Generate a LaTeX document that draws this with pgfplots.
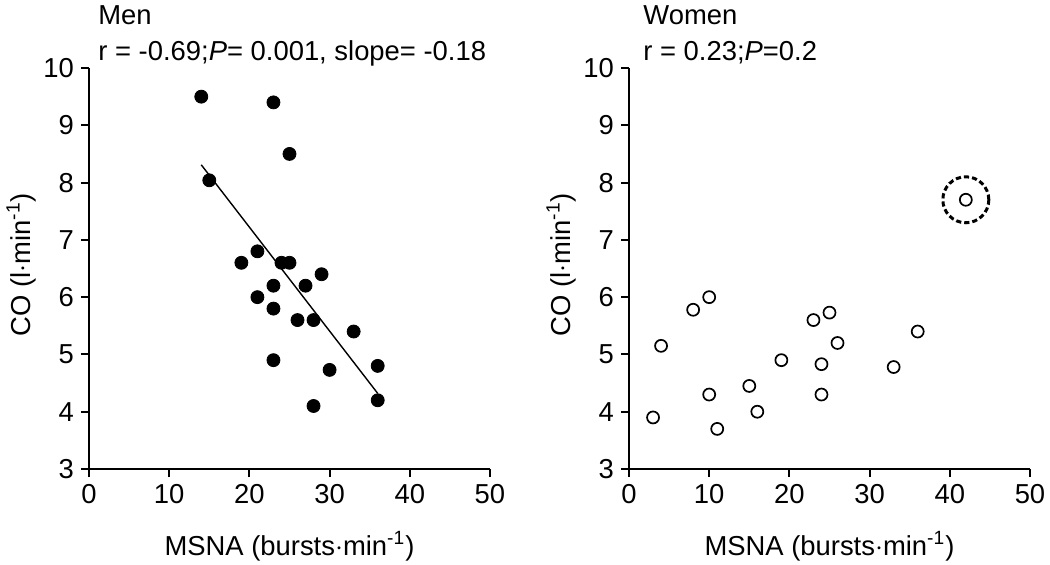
\documentclass[border=0pt]{standalone}
\usepackage{fontspec}
\setmainfont{Liberation Sans}
\usepackage{pgfplots}
\pgfplotsset{compat=1.18}
\newcommand{\fs}{\fontsize{13.7}{16.4}\selectfont}
\pgfplotsset{
  myaxis/.style={
    scale only axis, width=200.5pt, height=200.5pt,
    xmin=0, xmax=50, ymin=3, ymax=10,
    xtick={0,10,20,30,40,50}, ytick={3,4,5,6,7,8,9,10},
    axis x line*=bottom, axis y line*=left,
    tick align=outside, major tick length=4pt,
    axis line style={line width=1pt}, tick style={line width=1pt, black},
    font=\fs, tick label style={font=\fs},
    /pgf/number format/assume math mode=true,
    xlabel={MSNA (bursts$\cdot$min\textsuperscript{-1})},
    ylabel={CO (l$\cdot$min\textsuperscript{-1})},
    xlabel style={at={(axis description cs:0.5,-0.2145)}, anchor=base},
    ylabel style={at={(axis description cs:-0.147,0.51)}, anchor=base},
    clip=false,
  }
}
\begin{document}
\begin{tikzpicture}
\begin{axis}[myaxis, name=men, at={(0,0)}, anchor=south west]
\addplot[only marks, mark=*, mark size=3.25pt, black, mark options={fill=black}] coordinates {
(14,9.5) (23,9.4) (25,8.5) (15,8.04) (21,6.8) (19,6.6) (24,6.6) (25,6.6)
(29,6.4) (23,6.2) (27,6.2) (21,6.0) (23,5.8) (26,5.6) (28,5.6) (33,5.4)
(23,4.9) (36,4.8) (30,4.73) (36,4.2) (28,4.1)
};
\addplot[black, line width=0.7pt, no marks] coordinates {(14,8.31) (36,4.32)};
\end{axis}
\begin{axis}[myaxis, name=women, at={(270pt,0)}, anchor=south west]
\addplot[only marks, mark=o, mark size=3pt, black, mark options={line width=0.85pt}] coordinates {
(42,7.7) (10,6.0) (8,5.78) (25,5.73) (23,5.6) (36,5.4) (4,5.15) (26,5.2)
(19,4.9) (24,4.83) (33,4.78) (15,4.45) (10,4.3) (24,4.3) (16,4.0) (3,3.9) (11,3.7)
};
\addplot[only marks, mark=o, mark size=11.5pt, black, mark options={line width=1.5pt, dash pattern=on 2.6pt off 1.5pt}] coordinates {(42,7.7)};
\end{axis}
\node[font=\fs, inner sep=0pt, anchor=base west, xshift=4.5pt, yshift=4pt] at (men.north west) {r = -0.69;\textit{P}= 0.001, slope= -0.18};
\node[font=\fs, inner sep=0pt, anchor=base west, xshift=4.5pt, yshift=22pt] at (men.north west) {Men};
\node[font=\fs, inner sep=0pt, anchor=base west, xshift=7pt, yshift=4pt] at (women.north west) {r = 0.23;\textit{P}=0.2};
\node[font=\fs, inner sep=0pt, anchor=base west, xshift=7pt, yshift=22pt] at (women.north west) {Women};
\pgfresetboundingbox
\path[use as bounding box] ([shift={(-44.5pt,-47.5pt)}]men.south west) rectangle ++(525pt,282pt);
\end{tikzpicture}
\end{document}
